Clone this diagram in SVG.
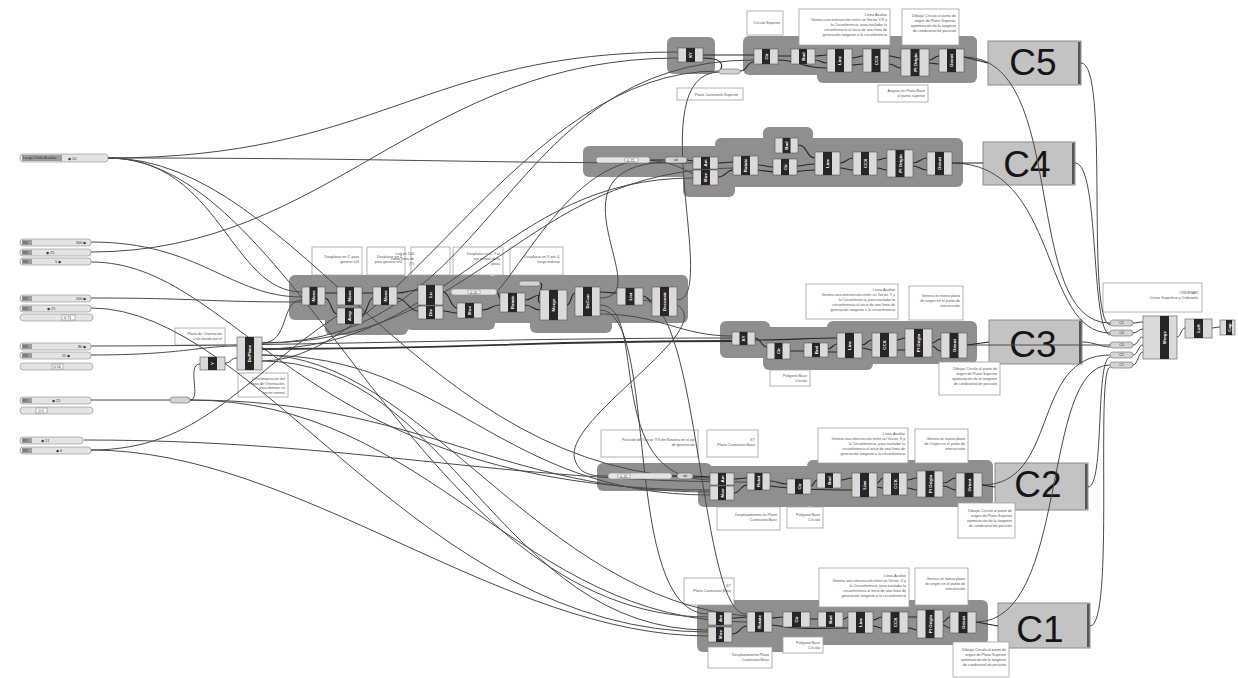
<svg xmlns="http://www.w3.org/2000/svg" width="1238" height="678" viewBox="0 0 1238 678">
<style>
text{font-family:'Liberation Sans',Arial,sans-serif}
.g{fill:#8f8f8f}
.w{fill:none;stroke:#4a4a4a;stroke-width:1}
.wt{fill:none;stroke:#333;stroke-width:1.8}
.wi{fill:none;stroke:#262626;stroke-width:1.1}
.n rect{fill:#dadada;stroke:#555;stroke-width:.6}
.n .k{fill:#262626;stroke:none}
.n text{fill:#fff;font-size:4.4px;font-weight:bold;text-anchor:middle}
.pl rect{fill:#d4d4d4;stroke:#666;stroke-width:.6}
.pl text{fill:#333;font-size:3.5px;text-anchor:middle}
.p rect{fill:#fff;stroke:#a0a0a0;stroke-width:.8}
.p text{fill:#555;font-size:3.7px;text-anchor:end}
.s rect{fill:#e4e4e4;stroke:#8a8a8a;stroke-width:.6}
.s .l{fill:#9c9c9c;stroke:none}
.s .v{fill:#fff;stroke:#888}
.s text{fill:#333;font-size:3.8px}
.cb rect{fill:#c3c3c3;stroke:#8c8c8c;stroke-width:1}
.cb .bar{fill:#555;stroke:none}
.cb text{font-size:37px;fill:#151515;text-anchor:middle}
</style>

<!-- group backgrounds -->
<g id="groups">
<rect class="g" x="667" y="37" width="48" height="37" rx="6"/>
<rect class="g" x="743" y="36" width="234" height="39" rx="6"/>
<rect class="g" x="817" y="36" width="160" height="47" rx="6"/>
<rect class="g" x="583" y="146" width="140" height="31" rx="6"/>
<rect class="g" x="683" y="152" width="52" height="45" rx="6"/>
<rect class="g" x="715" y="138" width="248" height="49" rx="6"/>
<rect class="g" x="763" y="127" width="50" height="25" rx="6"/>
<rect class="g" x="289" y="275" width="120" height="45" rx="6"/>
<rect class="g" x="325" y="295" width="83" height="40" rx="6"/>
<rect class="g" x="405" y="275" width="90" height="55" rx="6"/>
<rect class="g" x="490" y="275" width="198" height="48" rx="6"/>
<rect class="g" x="530" y="295" width="82" height="38" rx="6"/>
<rect class="g" x="720" y="321" width="50" height="37" rx="6"/>
<rect class="g" x="763" y="327" width="110" height="43" rx="6"/>
<rect class="g" x="827" y="321" width="150" height="43" rx="6"/>
<rect class="g" x="597" y="463" width="115" height="28" rx="6"/>
<rect class="g" x="698" y="466" width="115" height="41" rx="6"/>
<rect class="g" x="807" y="460" width="186" height="47" rx="6"/>
<rect class="g" x="697" y="600" width="120" height="52" rx="6"/>
<rect class="g" x="800" y="600" width="188" height="45" rx="6"/>
</g>

<!-- C boxes -->
<g id="C5" class="cb"><rect x="988" y="41" width="93" height="44"/><rect class="bar" x="1078" y="42" width="2.5" height="42"/><text x="1033" y="75">C5</text></g>
<g id="C4" class="cb"><rect x="983" y="142" width="92" height="43"/><rect class="bar" x="1072" y="143" width="2.5" height="41"/><text x="1027" y="177">C4</text></g>
<g id="C3" class="cb"><rect x="989" y="320" width="93" height="44"/><rect class="bar" x="1079" y="321" width="2.5" height="42"/><text x="1033" y="357">C3</text></g>
<g id="C2" class="cb"><rect x="995" y="463" width="93" height="47"/><rect class="bar" x="1085" y="464" width="2.5" height="45"/><text x="1038" y="497">C2</text></g>
<g id="C1" class="cb"><rect x="998" y="603" width="92" height="45"/><rect class="bar" x="1087" y="604" width="2.5" height="43"/><text x="1040" y="642">C1</text></g>

<!-- panels -->
<g id="p5a" class="p"><rect x="747" y="11" width="36" height="24"/><text x="780" y="24">Círculo Superior</text></g>
<g id="p5b" class="p"><rect x="799" y="9" width="91" height="36"/><text font-size="3.4"><tspan x="887" y="16">Línea Auxiliar</tspan><tspan x="887" dy="5">Genera una intersección entre un Vector Y/X y</tspan><tspan x="887" dy="5">la Circunferencia, para trasladar la</tspan><tspan x="887" dy="5">circunferencia al inicio de una línea de</tspan><tspan x="887" dy="5">generación tangente a la circunferencia</tspan></text></g>
<g id="p5c" class="p"><rect x="902" y="9" width="57" height="36"/><text font-size="3.4"><tspan x="956" y="17">Dibujar Círculo al punto de</tspan><tspan x="956" dy="5">origen de Plano Superior,</tspan><tspan x="956" dy="5">optimización de la tangente</tspan><tspan x="956" dy="5">de condicional de posición</tspan></text></g>
<g id="p5d" class="p"><rect x="677" y="88" width="66" height="12"/><text x="738" y="95.5">Plano Cartesiano Superior</text></g>
<g id="p5e" class="p"><rect x="878" y="85" width="50" height="17"/><text><tspan x="925" y="92">Asignar en Plano Base</tspan><tspan x="925" dy="5">al punto superior</tspan></text></g>

<g id="pm1" class="p"><rect x="312" y="247" width="50" height="28"/><text><tspan x="359" y="258">Desplazar en Z, para</tspan><tspan x="359" dy="5">generar n/4</tspan></text></g>
<g id="pm2" class="p"><rect x="367" y="247" width="38" height="28"/><text font-size="3.4"><tspan x="402" y="258">Desplazar en Z</tspan><tspan x="402" dy="5">para generar n/4</tspan></text></g>
<g id="pm3" class="p"><rect x="411" y="247" width="39" height="28"/><text text-anchor="start"><tspan x="414" y="255">Lod en 100</tspan><tspan x="414" dy="5">como línea de</tspan><tspan x="414" dy="5">(Y)</tspan></text></g>
<g id="pm4" class="p"><rect x="453" y="247" width="50" height="28"/><text><tspan x="500" y="255">Desplazar en Z, Y al</tspan><tspan x="500" dy="5">eje central de la</tspan><tspan x="500" dy="5">pieza</tspan></text></g>
<g id="pm5" class="p"><rect x="510" y="247" width="53" height="28"/><text><tspan x="560" y="258">Desplazar en X por 4,</tspan><tspan x="560" dy="5">luego ordenar</tspan></text></g>

<g id="pl1" class="p"><rect x="175" y="328" width="50" height="17"/><text><tspan x="222" y="335">Plano de Orientación</tspan><tspan x="222" dy="5">calculando por el</tspan></text></g>
<g id="pl2" class="p"><rect x="238" y="373" width="50" height="24"/><text><tspan x="285" y="380">Descomposición del</tspan><tspan x="285" dy="4.6">Plano de Orientación,</tspan><tspan x="285" dy="4.6">para obtener su</tspan><tspan x="285" dy="4.6">vector normal</tspan></text></g>

<g id="p3a" class="p"><rect x="806" y="284" width="92" height="35"/><text font-size="3.4"><tspan x="895" y="291">Línea Auxiliar</tspan><tspan x="895" dy="5">Genera una intersección entre un Vector, Y y</tspan><tspan x="895" dy="5">la Circunferencia, para trasladar la</tspan><tspan x="895" dy="5">circunferencia al inicio de una línea de</tspan><tspan x="895" dy="5">generación tangente a la circunferencia</tspan></text></g>
<g id="p3b" class="p"><rect x="909" y="286" width="54" height="34"/><text font-size="3.5"><tspan x="960" y="297">Genera un nuevo plano</tspan><tspan x="960" dy="5">de origen en el punto de</tspan><tspan x="960" dy="5">intersección</tspan></text></g>
<g id="p3c" class="p"><rect x="770" y="370" width="40" height="16"/><text><tspan x="807" y="377">Polígono Base</tspan><tspan x="807" dy="5">Círculo</tspan></text></g>
<g id="p3d" class="p"><rect x="939" y="362" width="61" height="33"/><text font-size="3.5"><tspan x="997" y="370">Dibujar Círculo al punto de</tspan><tspan x="997" dy="5">origen de Plano Superior</tspan><tspan x="997" dy="5">optimización de la tangente</tspan><tspan x="997" dy="5">de condicional de posición</tspan></text></g>

<g id="p2a" class="p"><rect x="601" y="430" width="97" height="27"/><text><tspan x="695" y="441">Posición del Vector Y/X de Rotativa en el eje</tspan><tspan x="695" dy="5">de generación</tspan></text></g>
<g id="p2b" class="p"><rect x="707" y="430" width="51" height="27"/><text><tspan x="755" y="441">XY</tspan><tspan x="755" dy="5">Plano Cartesiano Base</tspan></text></g>
<g id="p2c" class="p"><rect x="818" y="428" width="90" height="35"/><text font-size="3.4"><tspan x="905" y="435">Línea Auxiliar</tspan><tspan x="905" dy="5">Genera una intersección entre un Vector, X y</tspan><tspan x="905" dy="5">la Circunferencia, para trasladar la</tspan><tspan x="905" dy="5">circunferencia al inicio de una línea de</tspan><tspan x="905" dy="5">generación tangente a la circunferencia</tspan></text></g>
<g id="p2d" class="p"><rect x="915" y="429" width="53" height="34"/><text font-size="3.5"><tspan x="965" y="440">Genera un nuevo plano</tspan><tspan x="965" dy="5">de Origen en el punto de</tspan><tspan x="965" dy="5">intersección</tspan></text></g>
<g id="p2e" class="p"><rect x="717" y="507" width="63" height="23"/><text><tspan x="777" y="516">Desplazamiento en Plano</tspan><tspan x="777" dy="5">Cartesiano Base</tspan></text></g>
<g id="p2f" class="p"><rect x="787" y="507" width="36" height="21"/><text><tspan x="820" y="516">Polígono Base</tspan><tspan x="820" dy="5">Círculo</tspan></text></g>
<g id="p2g" class="p"><rect x="958" y="503" width="57" height="35"/><text font-size="3.4"><tspan x="1012" y="512">Dibujar Círculo al punto de</tspan><tspan x="1012" dy="5">origen de Plano Superior</tspan><tspan x="1012" dy="5">optimización de la tangente</tspan><tspan x="1012" dy="5">de condicional de posición</tspan></text></g>

<g id="p1a" class="p"><rect x="684" y="578" width="50" height="27"/><text><tspan x="731" y="587">XY</tspan><tspan x="731" dy="5">Plano Cartesiano Base</tspan></text></g>
<g id="p1b" class="p"><rect x="819" y="568" width="90" height="39"/><text font-size="3.4"><tspan x="906" y="577">Línea Auxiliar</tspan><tspan x="906" dy="5">Genera una intersección entre un Vector, X y</tspan><tspan x="906" dy="5">la Circunferencia, para trasladar la</tspan><tspan x="906" dy="5">circunferencia al inicio de una línea de</tspan><tspan x="906" dy="5">generación tangente a la circunferencia</tspan></text></g>
<g id="p1c" class="p"><rect x="915" y="568" width="53" height="37"/><text font-size="3.5"><tspan x="965" y="580">Genera un nuevo plano</tspan><tspan x="965" dy="5">de origen en el punto de</tspan><tspan x="965" dy="5">intersección</tspan></text></g>
<g id="p1d" class="p"><rect x="708" y="647" width="64" height="21"/><text><tspan x="769" y="656">Desplazamiento Plano</tspan><tspan x="769" dy="5">Cartesiano Base</tspan></text></g>
<g id="p1e" class="p"><rect x="783" y="637" width="40" height="16"/><text><tspan x="820" y="644">Polígono Base</tspan><tspan x="820" dy="5">Círculo</tspan></text></g>
<g id="p1f" class="p"><rect x="953" y="642" width="56" height="35"/><text font-size="3.4"><tspan x="1006" y="651">Dibujar Círculo al punto de</tspan><tspan x="1006" dy="5">origen de Plano Superior</tspan><tspan x="1006" dy="5">optimización de la tangente</tspan><tspan x="1006" dy="5">de condicional de posición</tspan></text></g>

<g id="pr" class="p"><rect x="1103" y="283" width="99" height="29"/><text><tspan x="1198" y="294">ORDENAR</tspan><tspan x="1198" dy="5">Cerrar Superficie y Ordenarla</tspan></text></g>

<!-- connectors -->
<g id="wires">
<path class="w" d="M108,158 C380,158 420,52 678,52"/>
<path class="w" d="M108,158 C400,158 450,163 693,163"/>
<path class="w" d="M108,158 C300,158 420,478 710,478"/>
<path class="w" d="M108,158 C300,158 420,617 708,617"/>
<path class="w" d="M108,158 C220,158 230,292 302,292"/>
<path class="w" d="M91,252 C330,252 420,58 678,58"/>
<path class="w" d="M91,242 C200,242 230,297 302,297"/>
<path class="w" d="M91,262 C240,262 300,490 710,490"/>
<path class="w" d="M91,298 C200,298 200,302 302,302"/>
<path class="w" d="M91,308 C260,308 420,632 708,632"/>
<path class="w" d="M91,346 C300,346 500,338 732,338"/>
<path class="w" d="M91,355 C180,355 200,346 237,346"/>
<path class="w" d="M91,400 L170,400"/>
<path class="w" d="M190,400 C202,400 186,364 200,364"/>
<path class="w" d="M190,400 C420,400 500,492 710,492"/>
<path class="w" d="M190,400 C430,400 520,622 747,622"/>
<path class="w" d="M84,440 C350,440 500,482 747,482"/>
<path class="w" d="M91,450 C200,450 240,380 337,316"/>
<path class="w" d="M91,450 C300,450 500,636 708,636"/>
<path class="w" d="M225,363 C232,363 230,358 237,358"/>
<path class="w" d="M262,343 C500,343 500,60 754,60"/>
<path class="wt" d="M262,349 C500,349 500,341 732,341"/>
<path class="w" d="M262,349 C450,349 500,178 693,178"/>
<path class="w" d="M262,355 C450,355 500,495 710,495"/>
<path class="w" d="M262,361 C450,361 500,630 708,630"/>
<path class="w" d="M262,343 C290,343 280,300 302,300"/>
<path class="w" d="M262,355 C420,355 540,600 747,616"/>
<path class="w" d="M262,343 C480,343 520,170 733,168"/>
<path class="w" d="M262,361 C400,361 520,70 719,71"/>
<path class="w" d="M600,298 C660,298 540,168 665,162"/>
<path class="w" d="M677,300 C720,300 640,74 719,72"/>
<path class="w" d="M600,305 C650,305 600,480 710,480"/>
<path class="w" d="M600,310 C660,310 620,614 708,614"/>
<path class="w" d="M643,300 C700,300 700,620 747,614"/>
<path class="w" d="M600,314 C660,314 680,336 732,336"/>
<path class="w" d="M677,305 C720,330 560,420 575,460 C580,476 595,476 608,476"/>
<path class="w" d="M497,292 C540,240 600,120 693,174"/>
<path class="w" d="M964,57 C1070,57 1020,323 1110,323"/>
<path class="w" d="M952,163 C1060,163 1040,333 1110,333"/>
<path class="w" d="M967,345 C1040,345 1040,345 1110,345"/>
<path class="w" d="M982,485 C1060,485 1030,355 1110,355"/>
<path class="w" d="M976,622 C1070,622 1040,365 1110,365"/>
<path class="w" d="M1081,63 C1110,63 1085,320 1110,325"/>
<path class="w" d="M1075,163 C1100,163 1090,330 1110,335"/>
<path class="w" d="M1082,342 C1095,342 1100,347 1110,347"/>
<path class="w" d="M1088,487 C1105,487 1095,360 1110,357"/>
<path class="w" d="M1090,626 C1115,626 1095,370 1110,367"/>
<path class="w" d="M1133,323 C1138,323 1138,322 1143,322"/>
<path class="w" d="M1133,333 C1138,333 1138,329 1143,329"/>
<path class="w" d="M1133,345 C1138,345 1138,337 1143,337"/>
<path class="w" d="M1133,355 C1138,355 1138,345 1143,345"/>
<path class="w" d="M1133,365 C1138,365 1138,352 1143,352"/>
<path class="w" d="M1177,337 C1181,337 1181,328 1185,328"/>
<path class="w" d="M1212,328 L1220,327"/>
<!-- inner group wires -->
<path class="wi" d="M703,55 L754,55 M703,58 C730,58 720,71 719,71 M740,71 C748,71 746,62 754,62 M778,56 L791,56 M778,60 C800,60 800,68 827,68 M815,56 C821,56 821,55 827,55 M815,60 C821,60 821,63 827,63 M852,58 C857,58 858,56 863,56 M852,65 C857,65 858,64 863,64 M889,56 C895,56 895,58 901,58 M889,64 C895,64 895,68 901,68 M929,60 C934,60 934,56 939,56 M929,63 C934,63 934,64 939,64 M964,57 L988,63"/>
<path class="wi" d="M650,160 L665,160 M687,160 L693,161 M718,163 C725,163 726,162 733,162 M718,177 C726,177 726,170 733,170 M758,165 C765,165 766,167 773,167 M758,170 C790,175 800,170 815,170 M798,145 C808,145 806,158 815,158 M797,166 C805,166 806,164 815,164 M840,163 C846,163 847,158 853,158 M840,168 C846,168 847,170 853,170 M877,160 C882,160 882,158 887,158 M877,168 C882,168 882,170 887,170 M913,163 C920,163 920,158 927,158 M913,166 C920,166 920,170 927,170 M952,163 L983,163"/>
<path class="wi" d="M755,338 C761,338 761,347 767,347 M755,340 C790,340 810,338 837,338 M790,351 L804,351 M828,349 C832,349 833,344 837,344 M828,352 C832,352 833,352 837,352 M862,345 C867,345 867,340 872,340 M862,348 C867,348 867,350 872,350 M897,340 C901,340 901,338 905,338 M897,350 C901,350 901,350 905,350 M932,343 C936,343 936,339 941,339 M932,346 C936,346 936,351 941,351 M967,345 L989,342"/>
<path class="wi" d="M672,476 L677,476 M693,476 L710,477 M734,479 C740,479 741,478 747,478 M734,493 C740,493 741,485 747,485 M770,481 C778,481 779,484 787,484 M770,486 C800,490 830,490 852,490 M811,486 C814,486 814,480 817,480 M841,480 C846,480 847,478 852,478 M877,483 C880,483 880,478 883,478 M877,487 C880,487 880,488 883,488 M907,480 C912,480 912,478 917,478 M907,488 C912,488 912,490 917,490 M943,483 C950,483 950,478 956,478 M943,486 C950,486 950,490 956,490 M982,485 L995,487"/>
<path class="wi" d="M732,618 C740,618 740,617 747,617 M732,634 C740,634 740,626 747,626 M772,618 C777,618 778,617 783,617 M772,625 C800,630 820,628 848,628 M810,619 L818,619 M843,619 C846,619 846,617 848,617 M873,620 C877,620 878,617 882,617 M873,626 C877,626 878,628 882,628 M908,617 C913,617 913,617 917,617 M908,628 C913,628 913,630 917,630 M943,622 C946,622 946,617 950,617 M943,625 C946,625 946,628 950,628 M976,622 L998,626"/>
<path class="wi" d="M325,293 L337,293 M325,298 C331,298 331,314 337,314 M362,293 L373,293 M362,315 C367,315 368,298 373,298 M397,293 C407,293 408,290 418,290 M397,298 C407,298 408,311 418,311 M443,292 C450,292 450,308 457,308 M443,311 C450,311 450,313 457,313 M497,292 C499,292 498,298 500,298 M482,310 C491,310 491,305 500,305 M525,300 C532,300 533,295 540,295 M540,283 C546,283 534,300 540,303 M525,305 C532,305 533,310 540,310 M567,305 C571,305 571,293 575,293 M600,292 C608,292 609,293 617,293 M643,296 C647,296 648,301 652,301"/>
</g>

<!-- sliders -->
<g id="s-largo" class="s"><rect x="20" y="154" width="88" height="8" rx="3"/><rect class="l" x="22" y="155" width="40" height="6"/><text x="23" y="159.3" font-size="3">Largo Onda Auxiliar</text><text x="68" y="159.5">◆ 10</text></g>
<g id="s1a" class="s"><rect x="20" y="239" width="71" height="7" rx="3"/><rect class="l" x="22" y="240" width="10" height="5"/><text x="23" y="244">R4</text><text x="76" y="244">500 ◆</text></g>
<g id="s1b" class="s"><rect x="20" y="249" width="71" height="7" rx="3"/><rect class="l" x="22" y="250" width="10" height="5"/><text x="23" y="254">R5</text><text x="46" y="254">◆ 25</text></g>
<g id="s1c" class="s"><rect x="20" y="258" width="71" height="7" rx="3"/><rect class="l" x="22" y="259" width="10" height="5"/><text x="23" y="263">R6</text><text x="55" y="263">5 ◆</text></g>
<g id="s2a" class="s"><rect x="20" y="295" width="71" height="7" rx="3"/><rect class="l" x="22" y="296" width="10" height="5"/><text x="23" y="300">R1</text><text x="76" y="300">200 ◆</text></g>
<g id="s2b" class="s"><rect x="20" y="305" width="71" height="7" rx="3"/><rect class="l" x="22" y="306" width="10" height="5"/><text x="23" y="310">R2</text><text x="47" y="310">◆ 25</text></g>
<g id="s2c" class="s"><rect x="20" y="314" width="73" height="7" rx="3.5"/><rect class="v" x="62" y="315" width="13" height="5"/><text x="64" y="319">0.71</text></g>
<g id="s3a" class="s"><rect x="20" y="343" width="71" height="7" rx="3"/><rect class="l" x="22" y="344" width="10" height="5"/><text x="23" y="348">R3</text><text x="78" y="348">80 ◆</text></g>
<g id="s3b" class="s"><rect x="20" y="352" width="71" height="7" rx="3"/><rect class="l" x="22" y="353" width="10" height="5"/><text x="23" y="357">R5</text><text x="62" y="357">15 ◆</text></g>
<g id="s3c" class="s"><rect x="20" y="363" width="73" height="7" rx="3.5"/><rect class="v" x="52" y="364" width="11" height="5"/><text x="53.5" y="368">0.56</text></g>
<g id="s4a" class="s"><rect x="20" y="397" width="71" height="7" rx="3"/><rect class="l" x="22" y="398" width="10" height="5"/><text x="23" y="402">R1</text><text x="52" y="402">◆ 25</text></g>
<g id="s4b" class="s"><rect x="20" y="407" width="73" height="7" rx="3.5"/><rect class="v" x="36" y="408" width="11" height="5"/><text x="38.5" y="412">0.5</text></g>
<g id="s5a" class="s"><rect x="20" y="437" width="63" height="7" rx="3"/><rect class="l" x="22" y="438" width="10" height="5"/><text x="23" y="442">R1</text><text x="41" y="442">◆ 21</text></g>
<g id="s5b" class="s"><rect x="20" y="447" width="71" height="7" rx="3"/><rect class="l" x="22" y="448" width="10" height="5"/><text x="23" y="452">R2</text><text x="56" y="452">◆ 0</text></g>

<!-- left nodes -->
<g id="relay" class="pl"><rect x="170" y="397" width="20" height="6" rx="3"/></g>
<g id="n-y" class="n" transform="translate(200,357)"><rect width="25" height="13"/><rect class="k" x="8" width="9" height="13"/><text transform="translate(12.5,6.5) rotate(-90)" dy="1.6">Y</text></g>
<g id="n-deplane" class="n" transform="translate(237,337)"><rect width="25" height="33"/><rect class="k" x="8" width="9" height="33"/><text transform="translate(12.5,16.5) rotate(-90)" dy="1.6">DePlane</text></g>

<!-- middle nodes -->
<g id="m1" class="n" transform="translate(302,287)"><rect width="23" height="18"/><rect class="k" x="7.5" width="8" height="18"/><text transform="translate(11.5,9) rotate(-90)" dy="1.6">Move</text></g>
<g id="m2" class="n" transform="translate(337,287)"><rect width="25" height="18"/><rect class="k" x="8" width="9" height="18"/><text transform="translate(12.5,9) rotate(-90)" dy="1.6">Move</text></g>
<g id="m3" class="n" transform="translate(337,308)"><rect width="25" height="16"/><rect class="k" x="8" width="9" height="16"/><text transform="translate(12.5,8) rotate(-90)" dy="1.6">Amp</text></g>
<g id="m4" class="n" transform="translate(373,287)"><rect width="24" height="18"/><rect class="k" x="8" width="8" height="18"/><text transform="translate(12,9) rotate(-90)" dy="1.6">Move</text></g>
<g id="m5" class="n" transform="translate(418,285)"><rect width="25" height="20"/><rect class="k" x="8" width="9" height="20"/><text transform="translate(12.5,10) rotate(-90)" dy="1.6">Ln</text></g>
<g id="m6" class="n" transform="translate(418,306)"><rect width="25" height="13"/><rect class="k" x="8" width="9" height="13"/><text transform="translate(12.5,6.5) rotate(-90)" dy="1.6">Div</text></g>
<g id="m-sl" class="s"><rect x="451" y="289" width="46" height="6" rx="3"/><rect class="v" x="468" y="290" width="12" height="4"/><text x="470" y="293.5" font-size="3">0.25</text></g>
<g id="m7" class="n" transform="translate(457,303)"><rect width="25" height="15"/><rect class="k" x="8" width="9" height="15"/><text transform="translate(12.5,7.5) rotate(-90)" dy="1.6">Mov</text></g>
<g id="m8" class="n" transform="translate(500,293)"><rect width="25" height="19"/><rect class="k" x="8" width="9" height="19"/><text transform="translate(12.5,9.5) rotate(-90)" dy="1.6">Rotate</text></g>
<g id="m-pill" class="pl"><rect x="519" y="281" width="21" height="5" rx="2.5"/></g>
<g id="m-merge" class="n" transform="translate(540,290)"><rect width="27" height="30"/><rect class="k" x="9" width="9" height="30"/><text transform="translate(13.5,15) rotate(-90)" dy="1.6">Merge</text></g>
<g id="m-decon" class="n" transform="translate(575,287)"><rect width="25" height="29"/><rect class="k" x="8" width="9" height="29"/><text transform="translate(12.5,14.5) rotate(-90)" dy="1.6">DeCon</text></g>
<g id="m9" class="n" transform="translate(617,288)"><rect width="26" height="17"/><rect class="k" x="8.5" width="9" height="17"/><text transform="translate(13,8.5) rotate(-90)" dy="1.6">List</text></g>
<g id="m10" class="n" transform="translate(652,287)"><rect width="25" height="29"/><rect class="k" x="8" width="9" height="29"/><text transform="translate(12.5,14.5) rotate(-90)" dy="1.6">Deconstr</text></g>

<!-- C5 nodes -->
<g id="c5-xy" class="n" transform="translate(678,48)"><rect width="25" height="14"/><rect class="k" x="8" width="9" height="14"/><text transform="translate(12.5,7) rotate(-90)" dy="1.6">XY</text></g>
<g id="c5-pill" class="pl"><rect x="719" y="69" width="21" height="5" rx="2.5"/></g>
<g id="c5-cir" class="n" transform="translate(754,49)"><rect width="24" height="15"/><rect class="k" x="8" width="8" height="15"/><text transform="translate(12,7.5) rotate(-90)" dy="1.6">Cir</text></g>
<g id="c5-bnd" class="n" transform="translate(791,49)"><rect width="24" height="15"/><rect class="k" x="8" width="8" height="15"/><text transform="translate(12,7.5) rotate(-90)" dy="1.6">Bnd</text></g>
<g id="c5-line" class="n" transform="translate(827,49)"><rect width="25" height="23"/><rect class="k" x="8" width="9" height="23"/><text transform="translate(12.5,11.5) rotate(-90)" dy="1.6">Line</text></g>
<g id="c5-ccx" class="n" transform="translate(863,49)"><rect width="26" height="23"/><rect class="k" x="8.5" width="9" height="23"/><text transform="translate(13,11.5) rotate(-90)" dy="1.6">CCX</text></g>
<g id="c5-pl" class="n" transform="translate(901,49)"><rect width="28" height="27"/><rect class="k" x="9.5" width="9" height="27"/><text transform="translate(14,13.5) rotate(-90)" dy="1.6">Pl Origin</text></g>
<g id="c5-or" class="n" transform="translate(939,49)"><rect width="25" height="23"/><rect class="k" x="8" width="9" height="23"/><text transform="translate(12.5,11.5) rotate(-90)" dy="1.6">Orient</text></g>

<!-- C4 nodes -->
<g id="c4-sl" class="s"><rect x="596" y="157" width="54" height="6" rx="3"/><rect class="v" x="625" y="158" width="13" height="4"/><text x="627" y="161.5" font-size="3">0.75</text></g>
<g id="c4-pill" class="pl"><rect x="665" y="157" width="22" height="6" rx="3"/><text x="676" y="161.3">ab</text></g>
<g id="c4-a" class="n" transform="translate(693,157)"><rect width="25" height="12"/><rect class="k" x="8" width="9" height="12"/><text transform="translate(12.5,6) rotate(-90)" dy="1.6">Am</text></g>
<g id="c4-b" class="n" transform="translate(693,170)"><rect width="25" height="15"/><rect class="k" x="8" width="9" height="15"/><text transform="translate(12.5,7.5) rotate(-90)" dy="1.6">Mov</text></g>
<g id="c4-c" class="n" transform="translate(733,156)"><rect width="25" height="19"/><rect class="k" x="8" width="9" height="19"/><text transform="translate(12.5,9.5) rotate(-90)" dy="1.6">Rotate</text></g>
<g id="c4-top" class="n" transform="translate(775,138)"><rect width="23" height="15"/><rect class="k" x="7.5" width="8" height="15"/><text transform="translate(11.5,7.5) rotate(-90)" dy="1.6">Bnd</text></g>
<g id="c4-cir" class="n" transform="translate(773,159)"><rect width="24" height="16"/><rect class="k" x="8" width="8" height="16"/><text transform="translate(12,8) rotate(-90)" dy="1.6">Cir</text></g>
<g id="c4-line" class="n" transform="translate(815,152)"><rect width="25" height="23"/><rect class="k" x="8" width="9" height="23"/><text transform="translate(12.5,11.5) rotate(-90)" dy="1.6">Line</text></g>
<g id="c4-ccx" class="n" transform="translate(853,152)"><rect width="24" height="23"/><rect class="k" x="8" width="8" height="23"/><text transform="translate(12,11.5) rotate(-90)" dy="1.6">CCX</text></g>
<g id="c4-pl" class="n" transform="translate(887,150)"><rect width="26" height="27"/><rect class="k" x="8.5" width="9" height="27"/><text transform="translate(13,13.5) rotate(-90)" dy="1.6">Pl Origin</text></g>
<g id="c4-or" class="n" transform="translate(927,152)"><rect width="25" height="23"/><rect class="k" x="8" width="9" height="23"/><text transform="translate(12.5,11.5) rotate(-90)" dy="1.6">Orient</text></g>

<!-- C3 nodes -->
<g id="c3-xy" class="n" transform="translate(732,332)"><rect width="23" height="13"/><rect class="k" x="7.5" width="8" height="13"/><text transform="translate(11.5,6.5) rotate(-90)" dy="1.6">XY</text></g>
<g id="c3-cir" class="n" transform="translate(767,343)"><rect width="23" height="16"/><rect class="k" x="7.5" width="8" height="16"/><text transform="translate(11.5,8) rotate(-90)" dy="1.6">Cir</text></g>
<g id="c3-bnd" class="n" transform="translate(804,343)"><rect width="24" height="14"/><rect class="k" x="8" width="8" height="14"/><text transform="translate(12,7) rotate(-90)" dy="1.6">Bnd</text></g>
<g id="c3-line" class="n" transform="translate(837,333)"><rect width="25" height="25"/><rect class="k" x="8" width="9" height="25"/><text transform="translate(12.5,12.5) rotate(-90)" dy="1.6">Line</text></g>
<g id="c3-ccx" class="n" transform="translate(872,333)"><rect width="25" height="24"/><rect class="k" x="8" width="9" height="24"/><text transform="translate(12.5,12) rotate(-90)" dy="1.6">CCX</text></g>
<g id="c3-pl" class="n" transform="translate(905,329)"><rect width="27" height="28"/><rect class="k" x="9" width="9" height="28"/><text transform="translate(13.5,14) rotate(-90)" dy="1.6">Pl Origin</text></g>
<g id="c3-or" class="n" transform="translate(941,333)"><rect width="26" height="25"/><rect class="k" x="8.5" width="9" height="25"/><text transform="translate(13,12.5) rotate(-90)" dy="1.6">Orient</text></g>

<!-- C2 nodes -->
<g id="c2-sl" class="s"><rect x="608" y="473" width="64" height="6" rx="3"/><rect class="v" x="618" y="474" width="12" height="4"/><text x="620" y="477.5" font-size="3">0.25</text></g>
<g id="c2-pill" class="pl"><rect x="677" y="473" width="16" height="6" rx="3"/><text x="685" y="477.3">ab</text></g>
<g id="c2-a" class="n" transform="translate(710,473)"><rect width="24" height="12"/><rect class="k" x="8" width="8" height="12"/><text transform="translate(12,6) rotate(-90)" dy="1.6">Am</text></g>
<g id="c2-b" class="n" transform="translate(710,486)"><rect width="24" height="14"/><rect class="k" x="8" width="8" height="14"/><text transform="translate(12,7) rotate(-90)" dy="1.6">Mov</text></g>
<g id="c2-c" class="n" transform="translate(747,473)"><rect width="23" height="17"/><rect class="k" x="7.5" width="8" height="17"/><text transform="translate(11.5,8.5) rotate(-90)" dy="1.6">Rotat</text></g>
<g id="c2-cir" class="n" transform="translate(787,479)"><rect width="24" height="15"/><rect class="k" x="8" width="8" height="15"/><text transform="translate(12,7.5) rotate(-90)" dy="1.6">Cir</text></g>
<g id="c2-bnd" class="n" transform="translate(817,473)"><rect width="24" height="15"/><rect class="k" x="8" width="8" height="15"/><text transform="translate(12,7.5) rotate(-90)" dy="1.6">Bnd</text></g>
<g id="c2-line" class="n" transform="translate(852,473)"><rect width="25" height="24"/><rect class="k" x="8" width="9" height="24"/><text transform="translate(12.5,12) rotate(-90)" dy="1.6">Line</text></g>
<g id="c2-ccx" class="n" transform="translate(883,473)"><rect width="24" height="22"/><rect class="k" x="8" width="8" height="22"/><text transform="translate(12,11) rotate(-90)" dy="1.6">CCX</text></g>
<g id="c2-pl" class="n" transform="translate(917,471)"><rect width="26" height="26"/><rect class="k" x="8.5" width="9" height="26"/><text transform="translate(13,13) rotate(-90)" dy="1.6">Pl Origin</text></g>
<g id="c2-or" class="n" transform="translate(956,473)"><rect width="26" height="24"/><rect class="k" x="8.5" width="9" height="24"/><text transform="translate(13,12) rotate(-90)" dy="1.6">Orient</text></g>

<!-- C1 nodes -->
<g id="c1-a" class="n" transform="translate(708,612)"><rect width="24" height="13"/><rect class="k" x="8" width="8" height="13"/><text transform="translate(12,6.5) rotate(-90)" dy="1.6">Am</text></g>
<g id="c1-b" class="n" transform="translate(708,627)"><rect width="24" height="15"/><rect class="k" x="8" width="8" height="15"/><text transform="translate(12,7.5) rotate(-90)" dy="1.6">Mov</text></g>
<g id="c1-c" class="n" transform="translate(747,612)"><rect width="25" height="20"/><rect class="k" x="8" width="9" height="20"/><text transform="translate(12.5,10) rotate(-90)" dy="1.6">Rotate</text></g>
<g id="c1-cir" class="n" transform="translate(783,612)"><rect width="27" height="15"/><rect class="k" x="9" width="9" height="15"/><text transform="translate(13.5,7.5) rotate(-90)" dy="1.6">Cir</text></g>
<g id="c1-bnd" class="n" transform="translate(818,612)"><rect width="25" height="15"/><rect class="k" x="8" width="9" height="15"/><text transform="translate(12.5,7.5) rotate(-90)" dy="1.6">Bnd</text></g>
<g id="c1-line" class="n" transform="translate(848,612)"><rect width="25" height="21"/><rect class="k" x="8" width="9" height="21"/><text transform="translate(12.5,10.5) rotate(-90)" dy="1.6">Line</text></g>
<g id="c1-ccx" class="n" transform="translate(882,612)"><rect width="26" height="21"/><rect class="k" x="8.5" width="9" height="21"/><text transform="translate(13,10.5) rotate(-90)" dy="1.6">CCX</text></g>
<g id="c1-pl" class="n" transform="translate(917,610)"><rect width="26" height="28"/><rect class="k" x="8.5" width="9" height="28"/><text transform="translate(13,14) rotate(-90)" dy="1.6">Pl Origin</text></g>
<g id="c1-or" class="n" transform="translate(950,612)"><rect width="26" height="21"/><rect class="k" x="8.5" width="9" height="21"/><text transform="translate(13,10.5) rotate(-90)" dy="1.6">Orient</text></g>

<!-- merge area -->
<g id="r-pill1" class="pl"><rect x="1110" y="320" width="23" height="6" rx="3"/><text x="1121.5" y="324.3">C5</text></g>
<g id="r-pill2" class="pl"><rect x="1110" y="330" width="23" height="6" rx="3"/><text x="1121.5" y="334.3">C4</text></g>
<g id="r-pill3" class="pl"><rect x="1110" y="342" width="23" height="6" rx="3"/><text x="1121.5" y="346.3">C3</text></g>
<g id="r-pill4" class="pl"><rect x="1110" y="352" width="23" height="6" rx="3"/><text x="1121.5" y="356.3">C2</text></g>
<g id="r-pill5" class="pl"><rect x="1110" y="362" width="23" height="6" rx="3"/><text x="1121.5" y="366.3">C1</text></g>
<g id="r-merge" class="n" transform="translate(1143,316)"><rect width="34" height="43"/><rect class="k" x="17" width="9" height="43"/><text transform="translate(21.5,21.5) rotate(-90)" dy="1.6">Merge</text></g>
<g id="r-loft" class="n" transform="translate(1185,319)"><rect width="27" height="19"/><rect class="k" x="9" width="9" height="19"/><text transform="translate(13.5,9.5) rotate(-90)" dy="1.6">Loft</text></g>
<g id="r-cap" class="n" transform="translate(1220,320)"><rect width="15" height="15"/><rect class="k" x="6" width="6" height="15"/><text transform="translate(9,7.5) rotate(-90)" dy="1.6">Cap</text></g>
</svg>
